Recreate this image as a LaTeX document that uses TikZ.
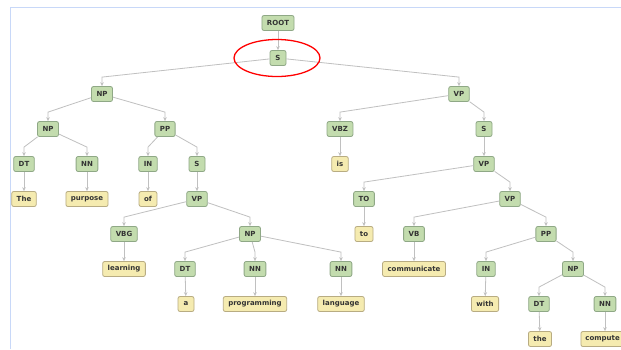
\documentclass[tikz,border=0pt]{standalone}
\usepackage{fontspec}
\newfontfamily\lblfont{DejaVu Sans}
\usetikzlibrary{calc,arrows.meta}
\definecolor{gfill}{HTML}{C3DCAE}
\definecolor{gline}{HTML}{8FA886}
\definecolor{yfill}{HTML}{F5EBB0}
\definecolor{yline}{HTML}{B8AC82}
\definecolor{eline}{HTML}{C0C0C0}
\definecolor{frame}{HTML}{C8D8F8}
\definecolor{txt}{HTML}{333333}
\tikzset{
  tag/.style={draw=gline, fill=gfill, line width=0.8pt, rounded corners=2pt,
    minimum height=15pt, minimum width=16pt, inner xsep=5pt, inner ysep=0pt,
    font=\lblfont\bfseries\fontsize{7}{8}\selectfont, text=txt},
  word/.style={tag, draw=yline, fill=yfill},
  edge/.style={draw=eline, line width=0.8pt, -{Stealth[length=4pt,width=3.5pt]}},
}
\newcommand{\bend}[2]{\draw[edge] (#1) -- ($(#2.north)+(0,9)$) -- (#2.north);}
\newcommand{\straight}[2]{\draw[edge] (#1) -- (#2);}
\begin{document}
\begin{tikzpicture}[x=1pt,y=1pt]
\useasboundingbox (0,0) rectangle (621,-349);
\clip (0,0) rectangle (621,-349);
\fill[white] (0,0) rectangle (621,-349);
\draw[frame, line width=1pt] (10.5,-349) -- (10.5,-7.5) -- (621,-7.5);
% nodes
\node[tag] (root) at (278,-23) {ROOT};
\node[tag] (s1) at (278,-58) {S};
\node[tag] (np1) at (102,-94) {NP};
\node[tag] (vp1) at (459,-94) {VP};
\node[tag] (np2) at (48,-129) {NP};
\node[tag] (pp1) at (165,-129) {PP};
\node[tag] (vbz) at (340,-129) {VBZ};
\node[tag] (s3) at (484,-129) {S};
\node[tag] (dt1) at (24,-164) {DT};
\node[tag] (nn1) at (87,-164) {NN};
\node[tag] (in1) at (148,-164) {IN};
\node[tag] (s2) at (197,-164) {S};
\node[word] (wis) at (340,-164) {is};
\node[tag] (vp3) at (484,-164) {VP};
\node[word] (wthe) at (24,-199) {The};
\node[word] (wpurpose) at (87,-199) {purpose};
\node[word] (wof) at (148,-199) {of};
\node[tag] (vp2) at (197,-199) {VP};
\node[tag] (to1) at (364,-199) {TO};
\node[tag] (vp4) at (510,-199) {VP};
\node[tag] (vbg) at (124,-234) {VBG};
\node[tag] (np3) at (250,-234) {NP};
\node[word] (wto) at (364,-234) {to};
\node[tag] (vb) at (414,-234) {VB};
\node[tag] (pp2) at (546,-234) {PP};
\node[word] (wlearning) at (124,-269) {learning};
\node[tag] (dt2) at (185,-269) {DT};
\node[tag] (nn2) at (255,-269) {NN};
\node[tag] (nn3) at (341,-269) {NN};
\node[word] (wcomm) at (414,-269) {communicate};
\node[tag] (in2) at (486,-269) {IN};
\node[tag] (np4) at (573,-269) {NP};
\node[word] (wa) at (186,-304) {a};
\node[word] (wprog) at (255,-304) {programming};
\node[word] (wlang) at (341,-304) {language};
\node[word] (wwith) at (485,-304) {with};
\node[tag] (dt3) at (539,-304) {DT};
\node[tag] (nn4) at (605,-304) {NN};
\node[word] (wthe2) at (540,-339) {the};
\node[word, anchor=west, text width=42pt, align=left, inner xsep=4.5pt] (wcomp) at (580.5,-339) {compute};
% edges
\straight{root}{s1}
\bend{s1}{np1}
\bend{s1}{vp1}
\bend{np1}{np2}
\bend{np1}{pp1}
\bend{vp1}{vbz}
\bend{vp1}{s3}
\bend{np2}{dt1}
\bend{np2}{nn1}
\bend{pp1}{in1}
\bend{pp1}{s2}
\straight{vbz}{wis}
\straight{s3}{vp3}
\straight{dt1}{wthe}
\straight{nn1}{wpurpose}
\straight{in1}{wof}
\straight{s2}{vp2}
\bend{vp3}{to1}
\bend{vp3}{vp4}
\bend{vp2}{vbg}
\bend{vp2}{np3}
\straight{to1}{wto}
\bend{vp4}{vb}
\bend{vp4}{pp2}
\straight{vbg}{wlearning}
\bend{np3}{dt2}
\bend{np3}{nn2}
\bend{np3}{nn3}
\straight{vb}{wcomm}
\bend{pp2}{in2}
\bend{pp2}{np4}
\straight{dt2}{wa}
\straight{nn2}{wprog}
\straight{nn3}{wlang}
\straight{in2}{wwith}
\bend{np4}{dt3}
\bend{np4}{nn4}
\straight{dt3}{wthe2}
\draw[edge] (nn4) -- (nn4 |- wcomp.north);
% highlight
\draw[red, line width=1.3pt] (277,-58) ellipse [x radius=43, y radius=18.5];
\end{tikzpicture}
\end{document}
